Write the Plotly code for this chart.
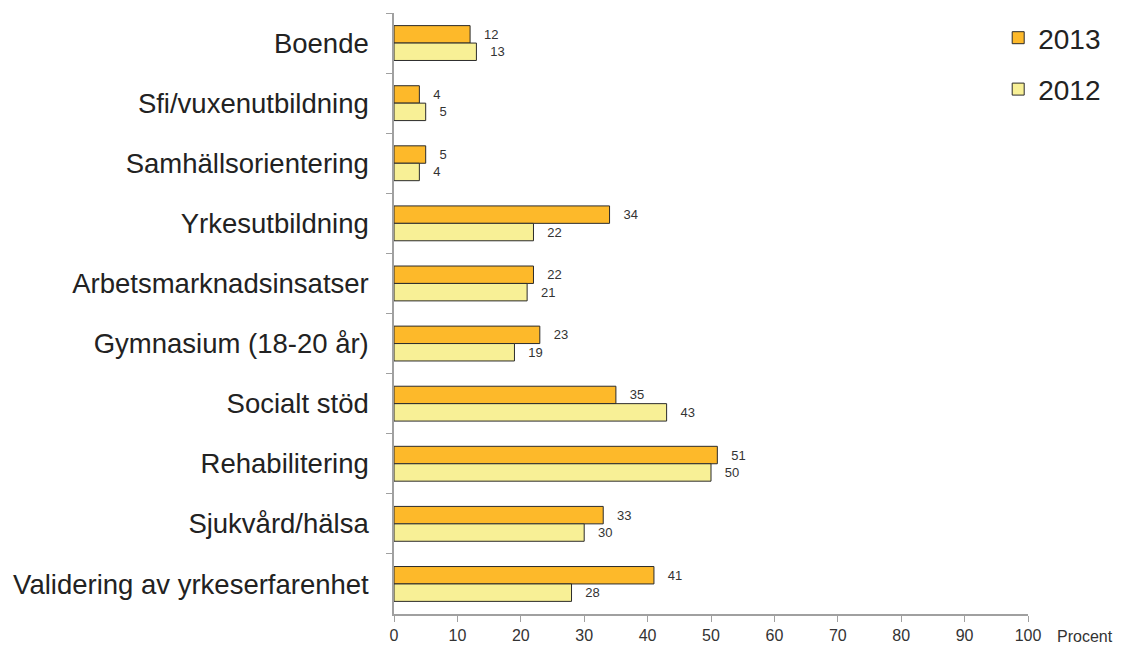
import plotly.graph_objects as go

categories = ["Boende", "Sfi/vuxenutbildning", "Samhällsorientering", "Yrkesutbildning",
              "Arbetsmarknadsinsatser", "Gymnasium (18-20 år)", "Socialt stöd",
              "Rehabilitering", "Sjukvård/hälsa", "Validering av yrkeserfarenhet"]
v2013 = [12, 4, 5, 34, 22, 23, 35, 51, 33, 41]
v2012 = [13, 5, 4, 22, 21, 19, 43, 50, 30, 28]
xticks = list(range(0, 101, 10))

font = "Liberation Sans, Arial, sans-serif"

fig = go.Figure()
fig.add_trace(go.Bar(
    y=categories, x=v2013, name="2013", orientation="h", legendgroup="a",
    marker=dict(color="#FDB92A", line=dict(color="#2b2b2b", width=1)),
    text=v2013, texttemplate="   %{x}", textposition="outside", cliponaxis=False,
    textfont=dict(size=13, color="#333333")
))
fig.add_trace(go.Bar(
    y=categories, x=v2012, name="2012", orientation="h", legendgroup="b",
    marker=dict(color="#F8F096", line=dict(color="#2b2b2b", width=1)),
    text=v2012, texttemplate="   %{x}", textposition="outside", cliponaxis=False,
    textfont=dict(size=13, color="#333333")
))

# page has an 8px body margin, so the figure is a bit smaller than the window
fig.update_layout(
    width=1113, height=637,
    margin=dict(l=386, r=93, t=5, b=31, autoexpand=False),
    barmode="group", bargap=0.42, bargroupgap=0,
    plot_bgcolor="white", paper_bgcolor="white",
    font=dict(family=font, color="#222222"),
    legend=dict(x=0.953, y=1.0, xanchor="left", yanchor="top",
                font=dict(size=28, color="#222222"), tracegroupgap=12,
                bgcolor="rgba(0,0,0,0)"),
    showlegend=True,
)
fig.update_xaxes(range=[0, 100], tickvals=xticks, showgrid=False, zeroline=False,
                 showline=True, linecolor="#a0a0a0", linewidth=1.5,
                 ticks="outside", ticklen=6, tickcolor="#a0a0a0",
                 tickfont=dict(size=16, color="#333333"))
fig.update_yaxes(autorange="reversed", showgrid=False, showline=True,
                 linecolor="#a0a0a0", linewidth=1.5, ticks="outside", ticklen=6,
                 tickcolor="#a0a0a0", tickson="boundaries",
                 tickfont=dict(size=27.5, color="#222222"), ticklabelstandoff=18)

fig.add_annotation(text="Procent", x=1.042, y=-0.02, xref="paper", yref="paper",
                   xanchor="left", yanchor="top", showarrow=False,
                   font=dict(size=16, color="#333333"))

fig.write_html("out.html")
